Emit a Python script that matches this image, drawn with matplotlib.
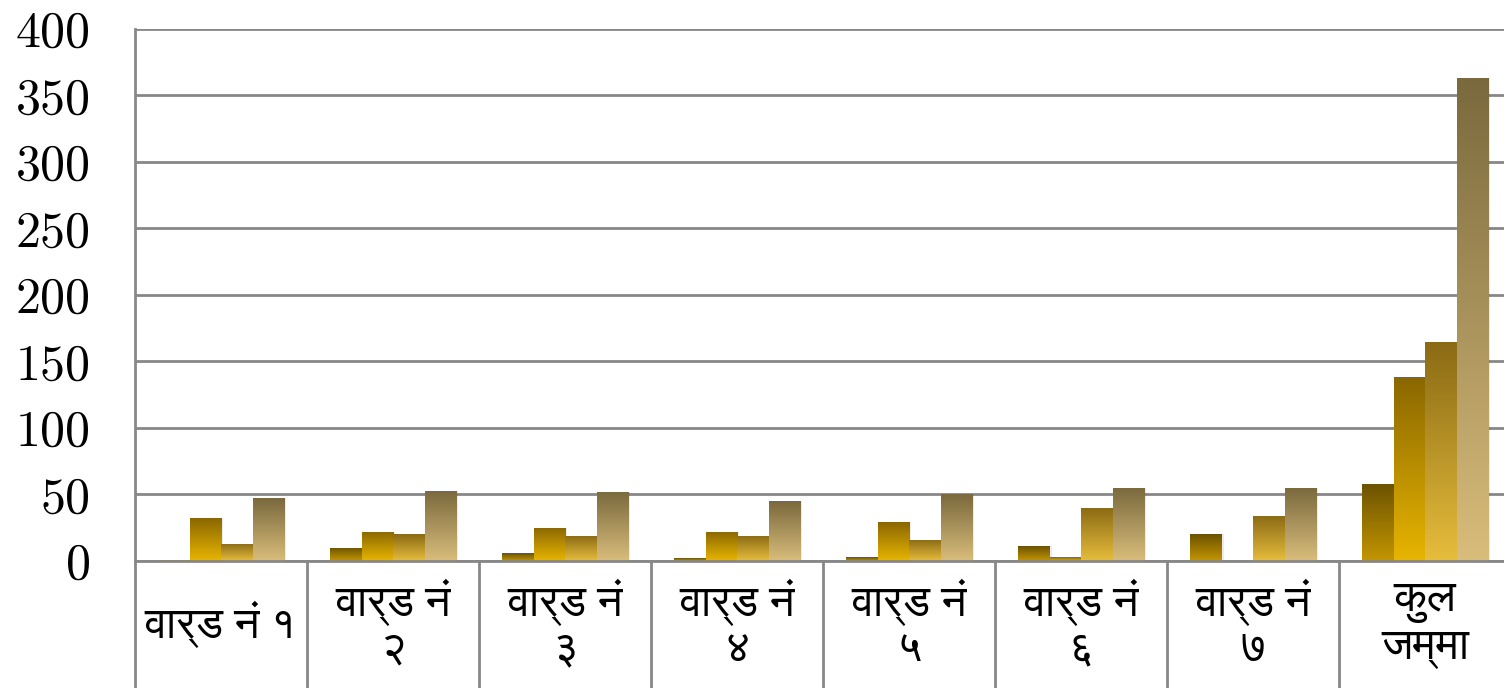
import numpy as np
import matplotlib.pyplot as plt
from matplotlib import font_manager
from matplotlib.colors import LinearSegmentedColormap

# chart data
categories = ["वार्ड नं १", "वार्ड नं\n२", "वार्ड नं\n३", "वार्ड नं\n४",
              "वार्ड नं\n५", "वार्ड नं\n६", "वार्ड नं\n७", "कुल\nजम्मा"]
series_1 = [1, 10, 6, 2, 3, 11, 20, 58]
series_2 = [32, 22, 25, 22, 29, 3, 0, 138]
series_3 = [13, 20, 19, 19, 16, 40, 34, 165]
series_4 = [47, 53, 52, 45, 50, 55, 55, 363]
y_ticks = [0, 50, 100, 150, 200, 250, 300, 350, 400]

# gradient colours (top, bottom) per series
shades = [("#6b5200", "#c49600"),
          ("#8a6700", "#e8b500"),
          ("#8a6a14", "#e7bd3c"),
          ("#7a693d", "#d9bd7b")]

deva = [f.name for f in font_manager.fontManager.ttflist
        if "devanagari" in f.name.lower() or "lohit" in f.name.lower()
        or f.name in ("FreeSans", "Mangal", "Nirmala UI")]
label_family = (deva[:1] if deva else []) + ["DejaVu Sans"]

fig = plt.figure(figsize=(15.04, 6.88), dpi=100)
ax = fig.add_axes([0.0898, 0.1846, 0.9149, 0.7733])

n = len(categories)
x = np.arange(n)
width = 0.183
all_series = [series_1, series_2, series_3, series_4]
grad = np.linspace(0, 1, 256).reshape(-1, 1)

for i, vals in enumerate(all_series):
    offs = (i - 1.5) * width
    bars = ax.bar(x + offs, vals, width, color="none", edgecolor="none", zorder=3)
    cmap = LinearSegmentedColormap.from_list(f"s{i}", [shades[i][1], shades[i][0]])
    for b in bars:
        h = b.get_height()
        if h <= 0:
            continue
        x0 = b.get_x()
        w = b.get_width()
        # soft shadow on the right
        ax.bar(x0 + w / 2 + 0.012, h, w, bottom=0, color="#000000",
               alpha=0.08, edgecolor="none", zorder=2)
        im = ax.imshow(grad, cmap=cmap, origin="lower", aspect="auto",
                       extent=(x0, x0 + w, 0, h), zorder=3, interpolation="bilinear")
        im.set_clip_path(b)

ax.set_xlim(-0.5, n - 0.5)
ax.set_ylim(0, 400)
ax.set_yticks(y_ticks)
ax.set_yticklabels([str(t) for t in y_ticks], family="cmr10", fontsize=36)
ax.tick_params(axis="y", length=0, pad=32)
ax.tick_params(axis="x", length=0, labelbottom=False)

ax.yaxis.grid(True, color="#878787", linewidth=2, zorder=1)
ax.set_axisbelow(True)
for side in ("top", "right", "bottom"):
    ax.spines[side].set_visible(False)
ax.spines["left"].set_color("#878787")
ax.spines["left"].set_linewidth(2)

# category table below the axis
trans = ax.get_xaxis_transform()
ax.plot([-0.5, n - 0.5], [0, 0], color="#878787", lw=2, transform=trans,
        clip_on=False, zorder=4)
for b in np.arange(-0.5, n, 1.0):
    ax.plot([b, b], [0, -0.3], color="#878787", lw=2, transform=trans,
            clip_on=False, zorder=4)
for xi, lab in zip(x, categories):
    ax.text(xi, -0.12, lab, transform=trans, ha="center", va="center",
            fontsize=32, family=label_family, linespacing=1.12)

fig.savefig("out.png", dpi=100)
